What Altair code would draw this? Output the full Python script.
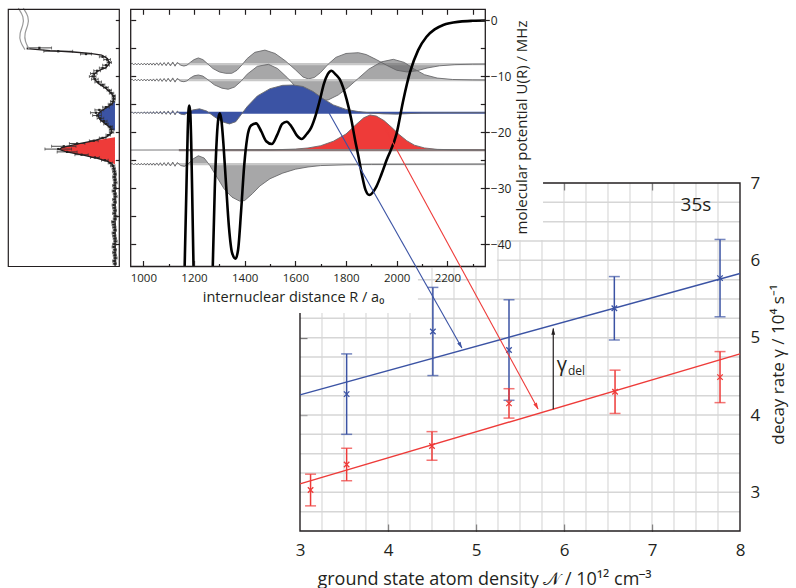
import altair as alt
import pandas as pd

FONT = "Open Sans"
INK = "#231f20"
BLUE = "#3b53a4"
RED = "#ee3b39"
WF_FILL = "#5f5f61"
WF_EDGE = "#6a6a6c"
WF_BASE = "#c8c8c8"
GRID = "#d6d6d6"

# ---------------- lower panel: decay rate vs ground state density ----------------
dens_blue = [3.53, 4.51, 5.375, 6.572, 7.773]
rate_blue = [4.27, 5.08, 4.84, 5.38, 5.77]
err_blue = [0.52, 0.57, 0.65, 0.41, 0.50]
dens_red = [3.12, 3.53, 4.50, 5.375, 6.58, 7.773]
rate_red = [3.03, 3.36, 3.60, 4.15, 4.30, 4.49]
err_red = [0.205, 0.21, 0.185, 0.19, 0.28, 0.33]
fit_dens = [3.0, 8.0]
fit_rate_blue = [4.26, 5.83]
fit_rate_red = [3.11, 4.79]
dens_labels = [3, 4, 5, 6, 7, 8]
dens_inner_ticks = [4, 5, 6, 7]
rate_labels = [3, 4, 5, 6, 7]
rate_inner_ticks = [4, 5, 6]
dens_grid = [3.25, 3.5, 3.75, 4.0, 4.25, 4.5, 4.75, 5.0, 5.25, 5.5, 5.75,
             6.0, 6.25, 6.5, 6.75, 7.0, 7.25, 7.5, 7.75]
rate_grid = [2.75, 3.0, 3.25, 3.5, 3.75, 4.0, 4.25, 4.5, 4.75, 5.0, 5.25,
             5.5, 5.75, 6.0, 6.25, 6.5, 6.75]
dens_extent = [3, 8]
rate_extent = [2.5, 7]

# annotation arrows (lower-panel coordinates)
arrow_blue_dens = [3.33, 4.84]
arrow_blue_rate = [7.905, 4.866]
arrow_red_dens = [3.96, 5.705]
arrow_red_rate = [7.72, 4.078]
gamma_dens = [5.878, 5.878]
gamma_rate = [4.075, 5.12]
head_dens = [4.823, 5.689, 5.878]
head_rate = [4.90, 4.112, 5.08]
head_angle = [150.5, 151.4, 0]
head_color = [BLUE, RED, INK]
label_text = ["35s"]
label_dens = [7.5]
label_rate = [6.72]
gamma_sym_dens = [6.034]
gamma_sym_rate = [4.569]
gamma_sub_dens = [6.045]
gamma_sub_rate = [4.517]

# ---------------- left panel: spectrum ----------------
spec_fit_U = [-5.05, -5.4, -5.64, -5.88, -6.18, -6.78, -7.67, -8.45, -8.99, -9.58,
              -10.36, -11.25, -12.15, -13.04, -13.94, -14.83, -15.55, -16.33, -16.93,
              -17.7, -18.54, -19.32, -20.1, -20.81, -21.53, -22.13, -22.73, -23.09,
              -23.5, -24.1, -24.7, -25.24, -25.9, -27.4, -30, -35, -40, -44]
spec_fit_s = [0.166, 0.376, 0.586, 0.736, 0.841, 0.892, 0.910, 0.880, 0.811, 0.775,
              0.772, 0.811, 0.880, 0.931, 0.952, 0.940, 0.886, 0.826, 0.805,
              0.826, 0.880, 0.925, 0.931, 0.886, 0.766, 0.616, 0.481, 0.460,
              0.526, 0.676, 0.811, 0.901, 0.946, 0.961, 0.962, 0.962, 0.962, 0.962]
spec_U = [-4.9, -5.5, -6.0, -6.5, -7.0, -7.5, -8.0, -8.5, -9.0, -9.5, -10.0, -10.5,
          -11.0, -11.5, -12.0, -12.5, -13.0, -13.5, -14.0, -14.5, -15.0, -15.5, -16.0,
          -16.5, -17.0, -17.5, -18.0, -18.5, -19.0, -19.5, -20.0, -20.5, -21.0, -21.5,
          -22.0, -22.5, -23.0, -23.5, -24.0, -24.5, -25.0, -25.5, -26.0, -26.5, -27.0,
          -27.5, -28.0, -28.5, -29.0, -29.5, -30.0, -30.5, -31.0, -31.5, -32.0, -32.5,
          -33.0, -33.5, -34.0, -34.5, -35.0, -35.5, -36.0, -36.5, -37.0, -37.5, -38.0,
          -38.5, -39.0, -39.5, -40.0, -40.5, -41.0, -41.5, -42.0, -42.5, -43.0, -43.5]
spec_s = [0.28, 0.45, 0.70, 0.85, 0.89, 0.91, 0.88, 0.85, 0.80, 0.77, 0.76, 0.78,
          0.81, 0.85, 0.88, 0.91, 0.93, 0.95, 0.95, 0.94, 0.92, 0.88, 0.82,
          0.79, 0.80, 0.83, 0.86, 0.88, 0.92, 0.93, 0.93, 0.90, 0.85, 0.77,
          0.62, 0.50, 0.45, 0.53, 0.66, 0.78, 0.87, 0.92, 0.94, 0.95, 0.955,
          0.96, 0.955, 0.96, 0.965, 0.955, 0.96, 0.95, 0.96, 0.965, 0.955, 0.96,
          0.95, 0.955, 0.96, 0.955, 0.965, 0.96, 0.945, 0.95, 0.955, 0.96, 0.95,
          0.955, 0.96, 0.965, 0.955, 0.95, 0.96, 0.955, 0.96, 0.965, 0.955, 0.96]
spec_err = [0.11, 0.13, 0.05, 0.03, 0.03, 0.02, 0.03, 0.03, 0.03, 0.03, 0.03, 0.03,
            0.03, 0.02, 0.02, 0.02, 0.02, 0.015, 0.015, 0.02, 0.02, 0.03, 0.04,
            0.05, 0.04, 0.03, 0.03, 0.02, 0.02, 0.02, 0.02, 0.02, 0.03, 0.04,
            0.07, 0.11, 0.12, 0.09, 0.06, 0.04, 0.03, 0.02, 0.02, 0.015, 0.015,
            0.015, 0.015, 0.015, 0.015, 0.015, 0.015, 0.015, 0.015, 0.015, 0.015, 0.015,
            0.015, 0.015, 0.015, 0.015, 0.015, 0.015, 0.015, 0.015, 0.015, 0.015, 0.015,
            0.015, 0.015, 0.015, 0.015, 0.015, 0.015, 0.015, 0.015, 0.015, 0.015, 0.015]
spec_base = 0.961
blue_band = [-14.3, -19.7]
red_band = [-20.9, -25.7]
break_U = [2.2, 0.7, -0.8, -2.3, -3.8, -5.2]
break_s1 = [0.09, 0.14, 0.135, 0.10, 0.105, 0.15]
break_s2 = [0.135, 0.185, 0.18, 0.145, 0.15, 0.19]
signal_extent = [0, 1]

# ---------------- middle panel: potential and wavefunctions ----------------
R_extent = [950, 2350]
U_extent = [-44, 2]
R_labels = [1000, 1200, 1400, 1600, 1800, 2000, 2200]
R_minor = [1100, 1300, 1500, 1700, 1900, 2100, 2300]
R_all_ticks = [1000, 1100, 1200, 1300, 1400, 1500, 1600, 1700, 1800, 1900, 2000, 2100, 2200, 2300]
U_labels = [0, -10, -20, -30, -40]
U_ticks = [0, -5, -10, -15, -20, -25, -30, -35, -40]

pot_seg = [1] * 9 + [2] * 44
pot_R = [1163, 1170, 1175, 1178, 1181, 1185, 1189, 1194, 1198,
         1274, 1282, 1290, 1296, 1302, 1308, 1316, 1326, 1338, 1350, 1364, 1374, 1386,
         1398, 1410, 1425, 1445, 1465, 1485, 1507, 1528, 1548, 1566, 1585, 1605, 1625,
         1645, 1662, 1680, 1697, 1713, 1728, 1743, 1758, 1775, 1803, 1820, 1836, 1850,
         1862, 1877, 1892, 1920, 1940]
pot_U = [-44, -30, -20, -16.2, -15.2, -16.3, -22, -34, -44,
         -44, -30, -21, -17.5, -16.6, -17.8, -22, -29, -37, -41.5, -42.6, -41, -34,
         -26, -21, -18.8, -18.4, -19.8, -21.6, -22.1, -20.5, -18.5, -18.1, -19.0, -20.5,
         -21.2, -20.3, -19.2, -17.0, -14.2, -11.3, -9.6, -9.0, -9.6, -10.5, -14.2, -17.5,
         -21.4, -24.5, -27.4, -30.3, -31.2, -29.7, -27.5]
pot_tail_R = [1960, 2000, 2026, 2053, 2085, 2118, 2150, 2184, 2250, 2300, 2350]
pot_tail_U = [-25.0, -20.2, -14.3, -9.2, -5.3, -2.9, -1.6, -0.8, -0.2, -0.05, 0.0]

wig_R = [950, 956, 962, 968, 974, 980, 986, 992, 998, 1004, 1010, 1016, 1022, 1028,
         1034, 1040, 1046, 1053, 1060, 1067, 1074, 1082, 1090, 1098, 1107, 1116, 1125, 1134]
wig_dU = [0, 0.15, -0.15, 0.15, -0.15, 0.15, -0.15, 0.15, -0.15, 0.17, -0.17, 0.17,
          -0.17, 0.18, -0.18, 0.2, -0.2, 0.22, -0.22, 0.25, -0.25, 0.28, -0.28, 0.32,
          -0.32, 0.38, -0.38, 0.3]

wf1_base = -7.8
wf1_R = [1148, 1160, 1172, 1185, 1200, 1217, 1235, 1255, 1275, 1300, 1325, 1349, 1370,
         1390, 1410, 1440, 1480, 1520, 1560, 1600, 1630, 1651, 1675, 1700, 1730, 1760,
         1800, 1849, 1880, 1920, 1960, 2000, 2040, 2080, 2120, 2170, 2230, 2300, 2350]
wf1_U = [-8.0, -8.15, -8.0, -7.5, -7.0, -6.7, -7.0, -7.8, -8.6, -9.2, -9.45, -9.45, -8.9,
         -7.9, -6.8, -5.7, -5.3, -5.9, -7.2, -8.8, -10.1, -10.45, -10.2, -9.3, -7.8, -6.6,
         -5.9, -5.76, -6.1, -7.0, -8.0, -8.9, -9.2, -9.0, -8.5, -8.1, -7.9, -7.82, -7.8]
wf2_base = -10.65
wf2_R = [1148, 1160, 1172, 1185, 1200, 1217, 1235, 1255, 1280, 1310, 1335, 1360, 1385,
         1410, 1450, 1494, 1530, 1570, 1610, 1650, 1690, 1730, 1770, 1810, 1850, 1890,
         1940, 1987, 2030, 2070, 2110, 2160, 2220, 2300, 2350]
wf2_U = [-10.85, -10.95, -10.8, -10.3, -9.9, -9.75, -9.95, -10.6, -11.5, -12.1, -12.3,
         -11.9, -10.9, -9.6, -8.2, -7.84, -8.6, -10.3, -12.3, -13.8, -14.4, -14.2, -13.3,
         -11.9, -10.3, -8.7, -7.4, -6.95, -7.5, -8.7, -9.7, -10.3, -10.55, -10.63, -10.65]
wf3_base = -16.5
wf3_R = [1148, 1162, 1176, 1195, 1222, 1250, 1280, 1310, 1340, 1365, 1385, 1410, 1450,
         1500, 1550, 1592, 1630, 1670, 1710, 1750, 1800, 1850, 1900, 1950, 2000, 2050,
         2100, 2200, 2350]
wf3_U = [-16.75, -16.85, -16.5, -16.0, -15.8, -16.2, -17.2, -18.1, -18.5, -18.1, -16.9,
         -15.4, -13.5, -12.2, -11.6, -11.54, -11.8, -12.7, -14.0, -15.1, -15.9, -16.3,
         -16.55, -16.7, -16.75, -16.65, -16.55, -16.5, -16.5]
wf4_base = -23.17
wf4_R = [950, 1500, 1600, 1650, 1700, 1750, 1800, 1840, 1870, 1895, 1920, 1950, 1980,
         2010, 2040, 2070, 2110, 2160, 2250, 2350]
wf4_U = [-23.17, -23.15, -23.0, -22.8, -22.4, -21.6, -20.3, -18.6, -17.4, -16.9, -17.1,
         -17.9, -19.1, -20.4, -21.5, -22.3, -22.8, -23.05, -23.15, -23.17]
wf5_base = -25.7
wf5_R = [1148, 1162, 1176, 1195, 1217, 1240, 1262, 1290, 1320, 1350, 1380, 1400, 1430,
         1460, 1500, 1550, 1600, 1650, 1700, 1800, 1900, 2350]
wf5_U = [-25.95, -26.1, -25.7, -24.8, -24.2, -24.6, -25.9, -28.0, -30.2, -31.6, -32.3,
         -32.2, -31.0, -29.6, -28.3, -27.3, -26.6, -26.2, -25.95, -25.8, -25.75, -25.7]

# white background of the inset panels (upper-panel coordinates)
mask_R0 = [434, 434, 2396]
mask_R1 = [2396, 2084, 2578]
mask_U0 = [3.7, 3.7, 3.7]
mask_U1 = [-44.27, -52.3, -39.26]

# ---------------- scales (each panel placed in its own pixel range) ----------------
RX = alt.Scale(domain=dens_extent, range=[300, 740], nice=False, zero=False)
RY = alt.Scale(domain=rate_extent, range=[531, 183], nice=False, zero=False)
LX = alt.Scale(domain=signal_extent, range=[8.3, 119.3], nice=False, zero=False)
MX = alt.Scale(domain=R_extent, range=[130.7, 485.3], nice=False, zero=False)
MY = alt.Scale(domain=U_extent, range=[266.5, 9.3], nice=False, zero=False)


def X(f, s, axis=None):
    return alt.X(f, type="quantitative", scale=s, axis=axis)


def Y(f, s, axis=None):
    return alt.Y(f, type="quantitative", scale=s, axis=axis)


def D(**cols):
    return pd.DataFrame(cols)


def ax(orient, offset, values, **kw):
    base = dict(orient=orient, offset=offset, values=values, title="", labels=False,
                domain=False, ticks=False, grid=False, tickColor=INK, tickWidth=1.2)
    base.update(kw)
    return alt.Axis(**base)


def axis_layer(xs, ys, x0, y0, xaxis=None, yaxis=None):
    return alt.Chart(D(x=[x0], y=[y0])).mark_point(opacity=0).encode(
        x=X("x", xs, xaxis), y=Y("y", ys, yaxis))


XPATH = "M-1,-1L1,1M1,-1L-1,1"
HEAD = "M0,-1L0.55,0.9L-0.55,0.9Z"

layers = []

# ===== lower panel =====
ng = len(dens_grid)
layers.append(alt.Chart(D(x=dens_grid, y0=[rate_extent[0]] * ng, y1=[rate_extent[1]] * ng))
              .mark_rule(color=GRID, strokeWidth=1.1)
              .encode(x=X("x", RX), y=Y("y0", RY), y2="y1"))
nr = len(rate_grid)
layers.append(alt.Chart(D(y=rate_grid, x0=[dens_extent[0]] * nr, x1=[dens_extent[1]] * nr))
              .mark_rule(color=GRID, strokeWidth=1.5)
              .encode(y=Y("y", RY), x=X("x0", RX), x2="x1"))
layers.append(alt.Chart(D(x0=[dens_extent[0]], x1=[dens_extent[1]], y0=[rate_extent[0]], y1=[rate_extent[1]]))
              .mark_rect(fill="white", fillOpacity=0, stroke=INK, strokeWidth=1.4)
              .encode(x=X("x0", RX), x2="x1", y=Y("y0", RY), y2="y1"))

layers.append(axis_layer(RX, RY, 5, 5, xaxis=ax(
    "bottom", -57, dens_labels, labels=True, labelFontSize=17, labelPadding=11,
    labelFlush=False, format="d",
    title="ground state atom density 𝒩 / 10¹² cm⁻³", titleFontSize=18,
    titleX=484, titleY=53, titleAlign="center", titleBaseline="alphabetic")))
layers.append(axis_layer(RX, RY, 5, 5, xaxis=ax("top", -531, dens_inner_ticks, ticks=True, tickSize=7)))
layers.append(axis_layer(RX, RY, 5, 5, xaxis=ax("bottom", -405, dens_inner_ticks, ticks=True, tickSize=7)))
layers.append(axis_layer(RX, RY, 5, 5, yaxis=ax(
    "right", -56, rate_labels, labels=True, labelFontSize=17, labelPadding=10, format="d",
    title="decay rate γ / 10⁴ s⁻¹", titleFontSize=17, titleAngle=270,
    titleX=38, titleY=364, titleAlign="center", titleBaseline="middle")))
layers.append(axis_layer(RX, RY, 5, 5, yaxis=ax("right", -496, rate_inner_ticks, ticks=True, tickSize=7)))

for dens, rate, err, col in [(dens_blue, rate_blue, err_blue, BLUE), (dens_red, rate_red, err_red, RED)]:
    lo = [r - e for r, e in zip(rate, err)]
    hi = [r + e for r, e in zip(rate, err)]
    d = D(x=dens, y=rate, lo=lo, hi=hi)
    layers.append(alt.Chart(d).mark_rule(color=col, strokeWidth=1.5)
                  .encode(x=X("x", RX), y=Y("lo", RY), y2="hi"))
    layers.append(alt.Chart(d).mark_tick(orient="horizontal", size=11, thickness=1.5, color=col)
                  .encode(x=X("x", RX), y=Y("lo", RY)))
    layers.append(alt.Chart(d).mark_tick(orient="horizontal", size=11, thickness=1.5, color=col)
                  .encode(x=X("x", RX), y=Y("hi", RY)))
    layers.append(alt.Chart(d).mark_point(shape=XPATH, filled=False, size=30, strokeWidth=1.3, color=col, opacity=1)
                  .encode(x=X("x", RX), y=Y("y", RY)))

layers.append(alt.Chart(D(x=fit_dens, y=fit_rate_blue)).mark_line(color=BLUE, strokeWidth=1.4)
              .encode(x=X("x", RX), y=Y("y", RY)))
layers.append(alt.Chart(D(x=fit_dens, y=fit_rate_red)).mark_line(color=RED, strokeWidth=1.4)
              .encode(x=X("x", RX), y=Y("y", RY)))

# ===== white background of the insets =====
layers.append(alt.Chart(D(x0=mask_R0, x1=mask_R1, y0=mask_U0, y1=mask_U1))
              .mark_rect(color="white", opacity=1)
              .encode(x=X("x0", MX), x2="x1", y=Y("y0", MY), y2="y1"))

# ===== left panel: spectrum =====
for band, col in [(blue_band, BLUE), (red_band, RED)]:
    sel = [(u, s) for u, s in zip(spec_fit_U, spec_fit_s) if band[1] <= u <= band[0]]
    d = D(U=[band[0]] + [u for u, _ in sel] + [band[1]],
          s=[spec_base] + [s for _, s in sel] + [spec_base])
    d["b"] = spec_base
    layers.append(alt.Chart(d).mark_area(orient="horizontal", color=col, opacity=1)
                  .encode(y=Y("U", MY), x=X("s", LX), x2="b"))

sp = D(U=spec_U, s=spec_s, lo=[s - e for s, e in zip(spec_s, spec_err)],
       hi=[s + e for s, e in zip(spec_s, spec_err)])
layers.append(alt.Chart(sp).mark_rule(color="#333333", strokeWidth=0.9)
              .encode(y=Y("U", MY), x=X("lo", LX), x2="hi"))
layers.append(alt.Chart(sp).mark_tick(orient="vertical", size=3, thickness=0.9, color="#333333")
              .encode(y=Y("U", MY), x=X("lo", LX)))
layers.append(alt.Chart(sp).mark_tick(orient="vertical", size=3, thickness=0.9, color="#333333")
              .encode(y=Y("U", MY), x=X("hi", LX)))
layers.append(alt.Chart(D(U=spec_fit_U, s=spec_fit_s, i=list(range(len(spec_fit_U)))))
              .mark_line(color=INK, strokeWidth=1.3)
              .encode(y=Y("U", MY), x=X("s", LX), order="i:Q"))
layers.append(alt.Chart(sp).mark_square(size=5, color="#222222", opacity=1)
              .encode(y=Y("U", MY), x=X("s", LX)))
for bs in (break_s1, break_s2):
    layers.append(alt.Chart(D(U=break_U, s=bs, i=list(range(len(break_U)))))
                  .mark_line(color="#9a9a9a", strokeWidth=1.2, interpolate="basis")
                  .encode(y=Y("U", MY), x=X("s", LX), order="i:Q"))
layers.append(alt.Chart(D(x0=[signal_extent[0]], x1=[signal_extent[1]], y0=[U_extent[0]], y1=[U_extent[1]]))
              .mark_rect(fill="white", fillOpacity=0, stroke=INK, strokeWidth=1.2)
              .encode(x=X("x0", LX), x2="x1", y=Y("y0", MY), y2="y1"))
layers.append(axis_layer(LX, MY, 0.5, -20, yaxis=ax("left", -119.3, U_ticks, ticks=True, tickSize=4, zindex=1)))

# ===== middle panel: wavefunctions =====
wfs = [
    (wig_R + wf1_R, [wf1_base + d for d in wig_dU] + wf1_U, wf1_base, WF_FILL, 0.55, WF_BASE),
    (wig_R + wf2_R, [wf2_base + d for d in wig_dU] + wf2_U, wf2_base, WF_FILL, 0.55, WF_BASE),
    (wig_R + wf3_R, [wf3_base + d for d in wig_dU] + wf3_U, wf3_base, BLUE, 1.0, BLUE),
    (wf4_R, wf4_U, wf4_base, RED, 1.0, "#8a7a7a"),
    (wig_R + wf5_R, [wf5_base + d for d in wig_dU] + wf5_U, wf5_base, WF_FILL, 0.55, WF_BASE),
]
for R, U, base, col, op, bcol in wfs:
    d = D(R=R, U=U)
    d["b"] = base
    layers.append(alt.Chart(d).mark_area(color=col, opacity=op)
                  .encode(x=X("R", MX), y=Y("U", MY), y2="b"))
    layers.append(alt.Chart(D(R=[1140, R_extent[1]], U=[base, base])).mark_line(color=bcol, strokeWidth=2.2)
                  .encode(x=X("R", MX), y=Y("U", MY)))
    layers.append(alt.Chart(d).mark_line(color=WF_EDGE, strokeWidth=0.9)
                  .encode(x=X("R", MX), y=Y("U", MY)))

# potential curve
pot = D(R=pot_R + pot_tail_R, U=pot_U + pot_tail_U, seg=pot_seg + [2] * len(pot_tail_R))
layers.append(alt.Chart(pot).mark_line(color="black", strokeWidth=2.6, interpolate="monotone")
              .encode(x=X("R", MX), y=Y("U", MY), detail="seg:N"))

layers.append(alt.Chart(D(x0=[R_extent[0]], x1=[R_extent[1]], y0=[U_extent[0]], y1=[U_extent[1]]))
              .mark_rect(fill="white", fillOpacity=0, stroke=INK, strokeWidth=1.3)
              .encode(x=X("x0", MX), x2="x1", y=Y("y0", MY), y2="y1"))

layers.append(axis_layer(MX, MY, 1500, -20, xaxis=ax(
    "bottom", -321.5, R_labels, labels=True, labelFontSize=11.5, labelPadding=6,
    labelFlush=False, format="d", zindex=1,
    title="internuclear distance R / a₀", titleFontSize=14.5,
    titleX=293, titleY=35, titleAlign="center", titleBaseline="alphabetic")))
layers.append(axis_layer(MX, MY, 1500, -20, xaxis=ax("top", -266.5, R_labels, ticks=True, tickSize=6, zindex=1)))
layers.append(axis_layer(MX, MY, 1500, -20, xaxis=ax("top", -266.5, R_minor, ticks=True, tickSize=3, zindex=1)))
layers.append(axis_layer(MX, MY, 1500, -20, xaxis=ax("bottom", -578.7, R_all_ticks, ticks=True, tickSize=5, zindex=1)))
layers.append(axis_layer(MX, MY, 1500, -20, yaxis=ax(
    "right", -310.7, U_labels, labels=True, ticks=True, tickSize=4, labelFontSize=12,
    labelPadding=1, format="d", zindex=1,
    title="molecular potential U(R) / MHz", titleFontSize=15, titleAngle=270,
    titleX=36, titleY=127, titleAlign="center", titleBaseline="middle")))
layers.append(axis_layer(MX, MY, 1500, -20, yaxis=ax("left", -485.3, U_ticks, ticks=True, tickSize=5, zindex=1)))
layers.append(axis_layer(MX, MY, 1500, -20, yaxis=ax("right", -665.3, U_ticks, ticks=True, tickSize=5, zindex=1)))

# ===== arrows and annotations =====
layers.append(alt.Chart(D(x=arrow_blue_dens, y=arrow_blue_rate)).mark_line(color=BLUE, strokeWidth=1.1)
              .encode(x=X("x", RX), y=Y("y", RY)))
layers.append(alt.Chart(D(x=arrow_red_dens, y=arrow_red_rate)).mark_line(color=RED, strokeWidth=1.1)
              .encode(x=X("x", RX), y=Y("y", RY)))
layers.append(alt.Chart(D(x=gamma_dens[:1], y0=gamma_rate[:1], y1=gamma_rate[1:]))
              .mark_rule(color=INK, strokeWidth=1.2)
              .encode(x=X("x", RX), y=Y("y0", RY), y2="y1"))
layers.append(alt.Chart(D(x=head_dens, y=head_rate, a=head_angle, c=head_color))
              .mark_point(shape=HEAD, filled=True, size=50, opacity=1)
              .encode(x=X("x", RX), y=Y("y", RY), angle=alt.Angle("a:Q", scale=None),
                      color=alt.Color("c:N", scale=None)))
layers.append(alt.Chart(D(x=label_dens, y=label_rate, t=label_text))
              .mark_text(font=FONT, fontSize=19, color=INK, align="center", baseline="middle")
              .encode(x=X("x", RX), y=Y("y", RY), text="t:N"))
layers.append(alt.Chart(D(x=gamma_sym_dens, y=gamma_sym_rate, t=["γ"]))
              .mark_text(font=FONT, fontSize=20, color=INK, align="right", baseline="alphabetic")
              .encode(x=X("x", RX), y=Y("y", RY), text="t:N"))
layers.append(alt.Chart(D(x=gamma_sub_dens, y=gamma_sub_rate, t=["del"]))
              .mark_text(font=FONT, fontSize=12, color=INK, align="left", baseline="alphabetic")
              .encode(x=X("x", RX), y=Y("y", RY), text="t:N"))

chart = (
    alt.layer(*layers)
    .resolve_scale(x="independent", y="independent")
    .properties(width=796, height=588, autosize=alt.AutoSizeParams(type="none"), padding=0)
    .configure_view(strokeWidth=0)
    .configure_axis(labelFont=FONT, titleFont=FONT, labelColor=INK, titleColor=INK,
                    titleFontWeight="normal", domainColor=INK)
)

chart.save("out.html", embed_options={"renderer": "svg", "actions": False})
